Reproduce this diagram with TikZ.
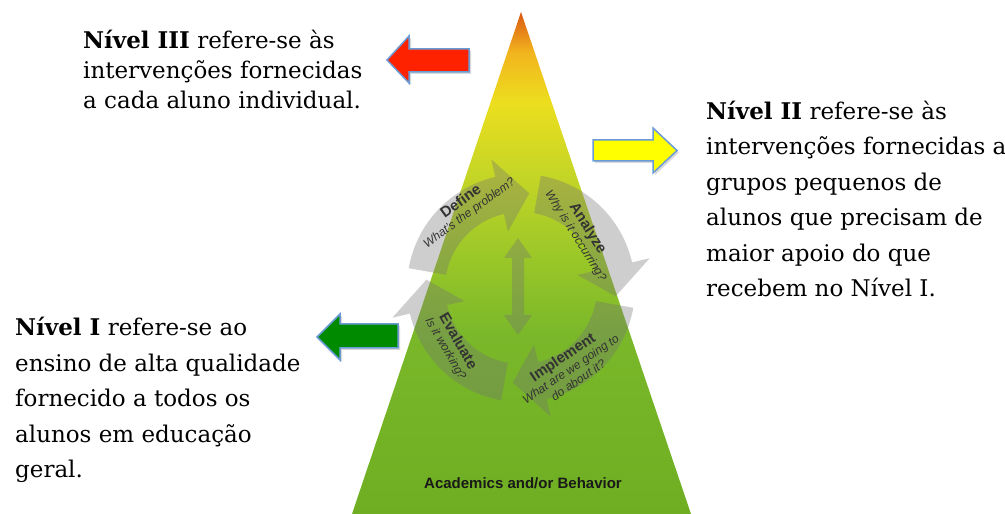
\documentclass[tikz,border=0pt]{standalone}
\usepackage{fontspec}
\setmainfont{DejaVu Serif}
\setsansfont{Liberation Sans}
\usepackage{tikz}
\usetikzlibrary{shadows}

\definecolor{tierred}{HTML}{FF2200}
\definecolor{tieryellow}{HTML}{FFFF00}
\definecolor{tiergreen}{HTML}{008A00}
\definecolor{arrowedge}{HTML}{6B9BD6}
\definecolor{pyr1}{HTML}{6FAE22}
\definecolor{pyr2}{HTML}{7AB82A}
\definecolor{pyr3}{HTML}{9CC828}
\definecolor{pyr4}{HTML}{C6D626}
\definecolor{pyr5}{HTML}{ECDE1E}
\definecolor{pyr6}{HTML}{F2B41E}
\definecolor{pyr7}{HTML}{DA5812}
\pgfdeclareverticalshading{pyramid}{100bp}{color(0bp)=(pyr1); color(25bp)=(pyr1);
  color(43bp)=(pyr2); color(51bp)=(pyr3); color(59bp)=(pyr4); color(66bp)=(pyr5);
  color(71bp)=(pyr6); color(75bp)=(pyr7); color(100bp)=(pyr7)}

\begin{document}
\begin{tikzpicture}[x=1pt,y=1pt]
\tikzstyle{tiertext}=[inner sep=0pt,align=left,anchor=base west,font=\fontsize{23}{35.5}\selectfont]
\tikzstyle{tierarrow}=[draw=arrowedge,line width=1.5pt,line join=miter,drop shadow={opacity=0.3,shadow xshift=2pt,shadow yshift=-2pt}]
\tikzstyle{cyclearrow}=[fill=black!55,fill opacity=0.35]
\tikzstyle{cyclabel}=[inner sep=0pt,align=center,text=black!80,font=\sffamily\fontsize{12}{13.5}\selectfont]
\useasboundingbox (0,0) rectangle (1005,514);

\coordinate (apex) at (521,502);
\coordinate (baseL) at (352,0);
\coordinate (baseR) at (691,0);
\shade[shading=pyramid] (apex) -- (baseR) -- (baseL) -- cycle;

\coordinate (cyc) at (521,226);
\begin{scope}[shift={(cyc)}]
\foreach \c in {130,40,-50,-140}
  \fill[cyclearrow] ({\c+40}:114) arc[start angle=\c+40,end angle=\c-27,radius=114] -- ({\c-27}:132) -- ({\c-45}:95)
    -- ({\c-27}:58) -- ({\c-27}:76) arc[start angle=\c-27,end angle=\c+40,radius=76] -- cycle;
\end{scope}
\fill[cyclearrow] (518,276) -- (532,256) -- (524,256) -- (524,199) -- (532,199) -- (518,179) -- (504,199) -- (512,199)
  -- (512,256) -- (504,256) -- cycle;

\node[cyclabel,rotate=36] (define) at (465,307) {{\bfseries\fontsize{15}{16}\selectfont Define}\\\textit{What's the problem?}};
\node[cyclabel,rotate=-58] (analyze) at (582,282) {{\bfseries\fontsize{15}{16}\selectfont Analyze}\\\textit{Why is it occurring?}};
\node[cyclabel,rotate=34] (implement) at (570,146) {{\bfseries\fontsize{15}{16}\selectfont Implement}\\\textit{What are we going to}\\\textit{do about it?}};
\node[cyclabel,rotate=-60] (evaluate) at (452,169) {{\bfseries\fontsize{15}{16}\selectfont Evaluate}\\\textit{Is it working?}};
\node[font=\sffamily\bfseries\fontsize{15}{18}\selectfont,text=black!90] (focus) at (523,31) {Academics and/or Behavior};

\draw[tierarrow,fill=tierred] (387,454) -- (409,478) -- (409,465) -- (469,465) -- (469,442) -- (409,442) -- (409,431) -- cycle;
\draw[tierarrow,fill=tieryellow] (593,374) -- (653,374) -- (653,386) -- (677,363.5) -- (653,341) -- (653,353) -- (593,353) -- cycle;
\draw[tierarrow,fill=tiergreen] (317,177) -- (340,200) -- (340,190) -- (398,190) -- (398,166) -- (340,166) -- (340,154) -- cycle;

\node[tiertext,font=\fontsize{23}{30}\selectfont] (tier3) at (83,405) {\textbf{Nível III} refere-se às\\intervenções fornecidas\\a cada aluno individual.};
\node[tiertext] (tier2) at (706,217) {\textbf{Nível II} refere-se às\\intervenções fornecidas a\\grupos pequenos de\\alunos que precisam de\\maior apoio do que\\recebem no Nível I.};
\node[tiertext] (tier1) at (15,36) {\textbf{Nível I} refere-se ao\\ensino de alta qualidade\\fornecido a todos os\\alunos em educação\\geral.};
\end{tikzpicture}
\end{document}
